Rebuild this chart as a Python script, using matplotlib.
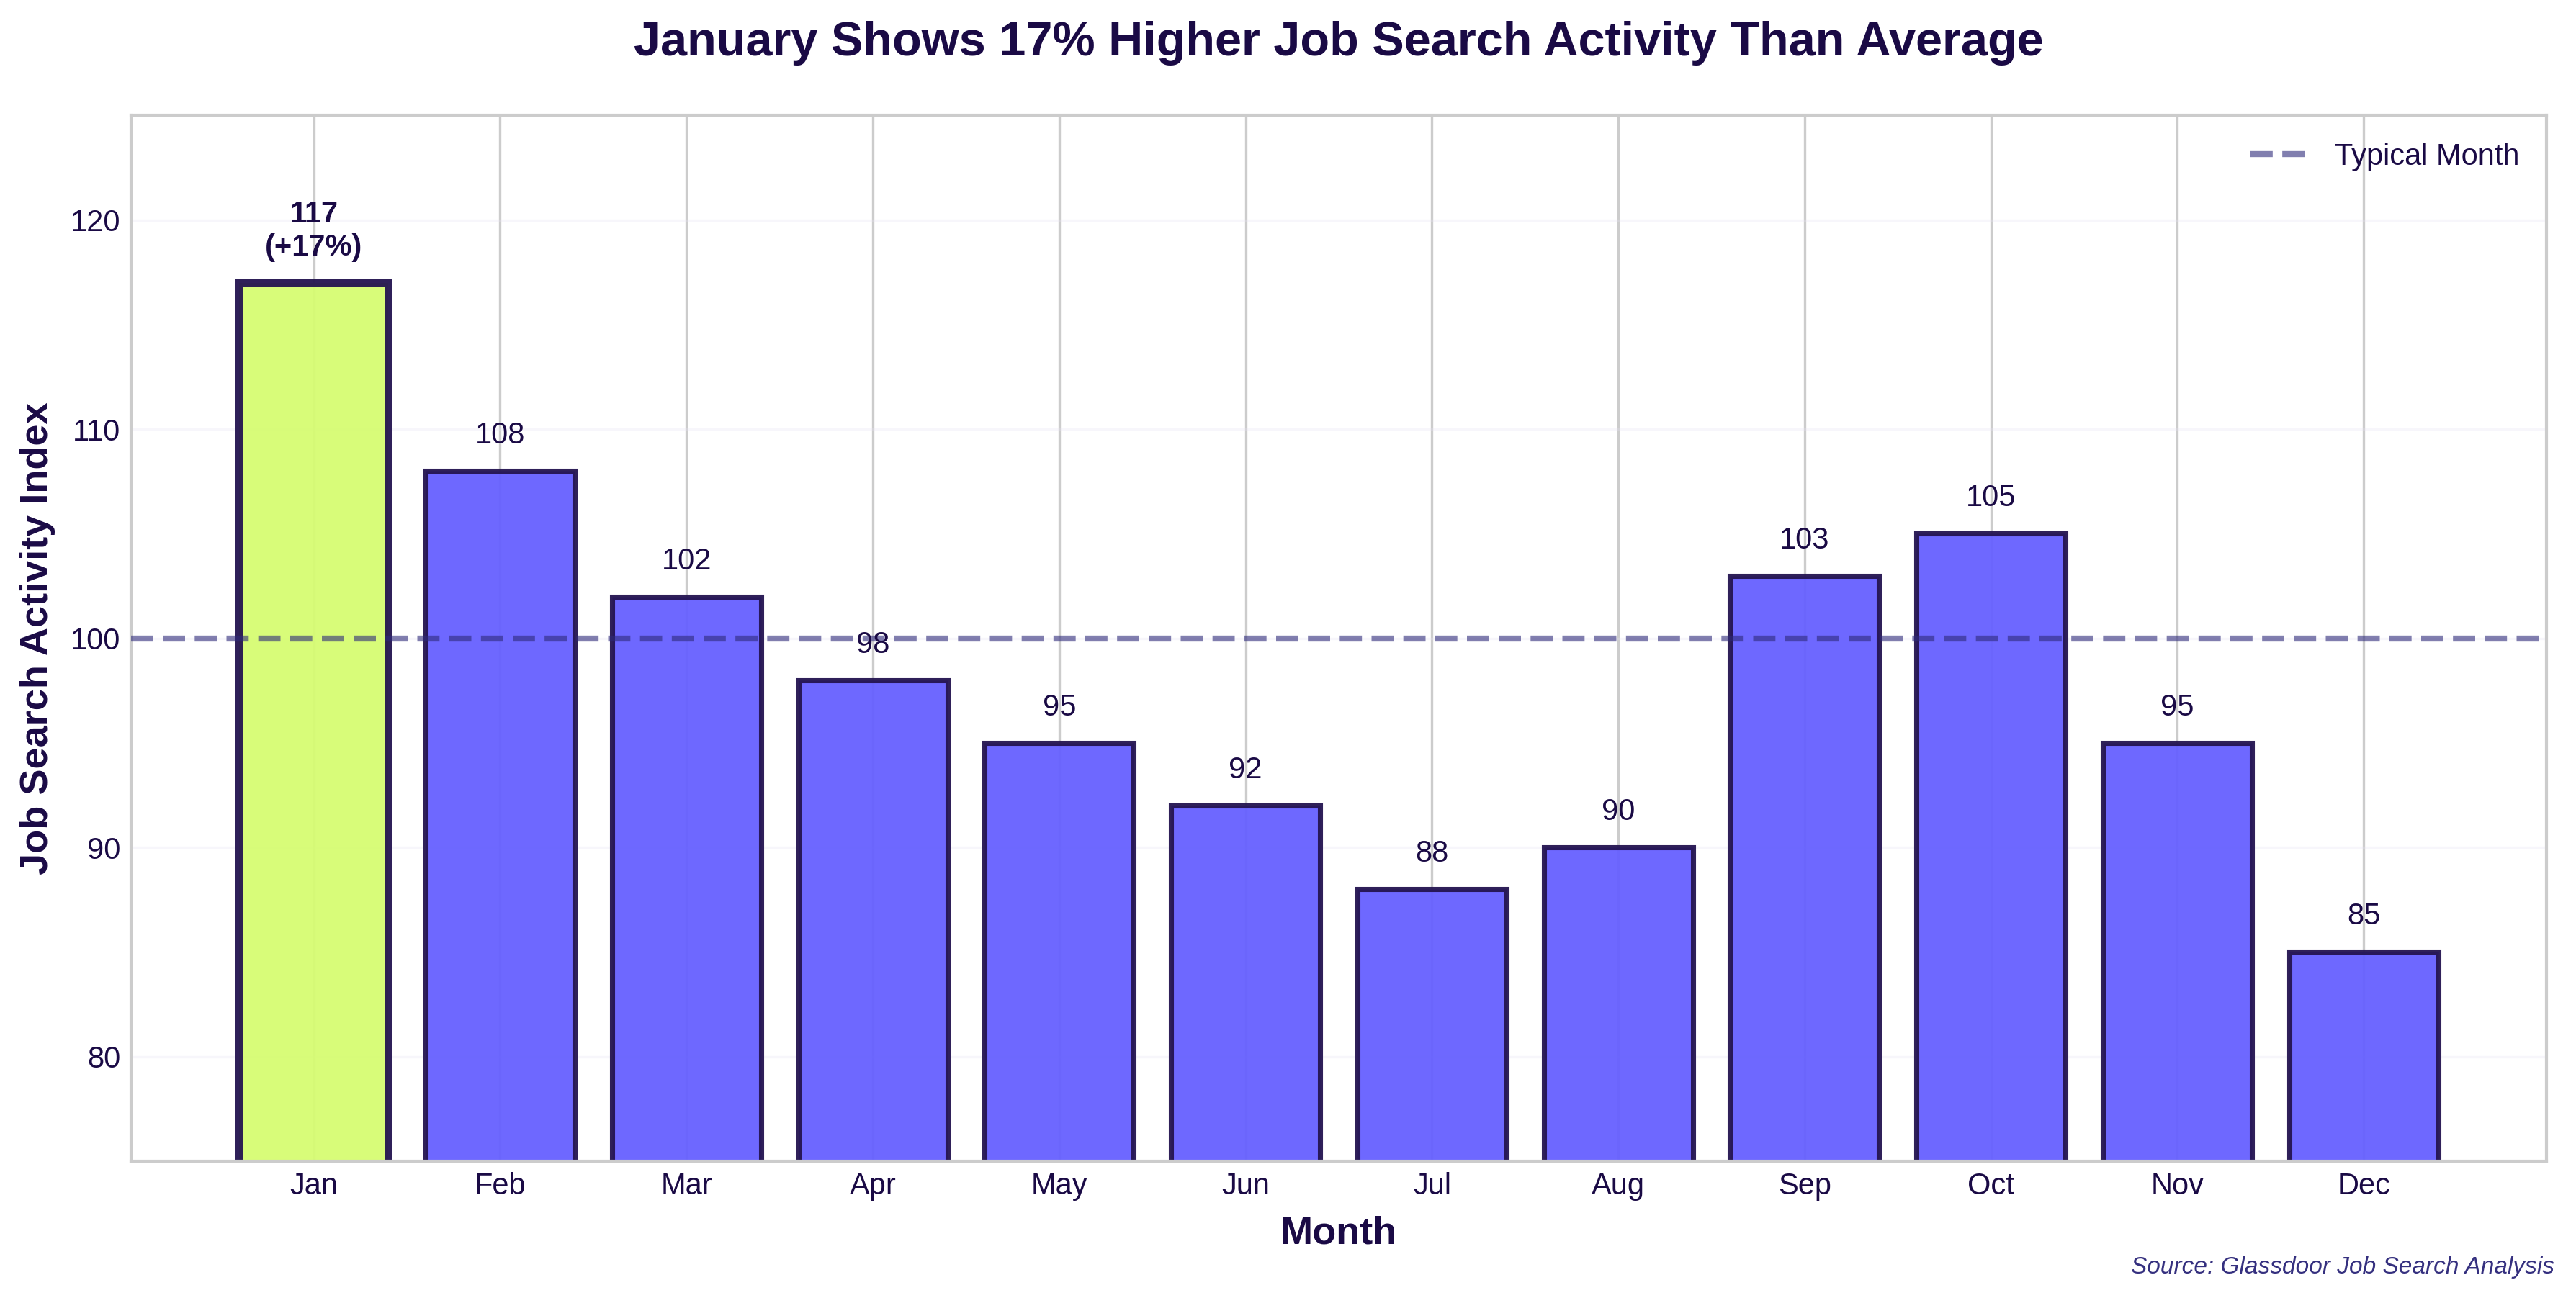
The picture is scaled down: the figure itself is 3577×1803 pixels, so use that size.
import matplotlib
matplotlib.use("Agg")
import matplotlib.pyplot as plt
import numpy as np

months = ["Jan", "Feb", "Mar", "Apr", "May", "Jun", "Jul", "Aug", "Sep", "Oct", "Nov", "Dec"]
activity = [117, 108, 102, 98, 95, 92, 88, 90, 103, 105, 95, 85]
baseline = 100
yticks = [80, 90, 100, 110, 120]

TEXT = "#1a0a45"
EDGE = "#241450"
BAR = "#6660ff"
HIGHLIGHT = "#d6fc72"

plt.style.use("seaborn-v0_8-whitegrid")
plt.rcParams["font.family"] = ["Liberation Sans", "DejaVu Sans"]

fig = plt.figure(figsize=(3577 / 300, 1803 / 300), dpi=300)
ax = fig.add_axes([0.0509, 0.1054, 0.9376, 0.8056])

x = np.arange(len(months))
colors = [HIGHLIGHT if i == 0 else BAR for i in range(len(months))]
lws = [2.4 if i == 0 else 1.7 for i in range(len(months))]
bars = ax.bar(x, activity, width=0.8, color=colors, edgecolor=EDGE,
              linewidth=lws, alpha=0.95, zorder=2)
for b in bars:
    b.set_edgecolor(EDGE)

ax.axhline(baseline, color="#2e2a7a", alpha=0.6, linestyle="--", linewidth=2,
           label="Typical Month", zorder=3)

for i, v in enumerate(activity):
    if i == 0:
        pct = round((v - baseline) / baseline * 100)
        ax.text(i, v + 1, f"{v}\n(+{pct}%)", ha="center", va="bottom",
                fontsize=10, fontweight="bold", color=TEXT, zorder=4)
    else:
        ax.text(i, v + 1, f"{v}", ha="center", va="bottom",
                fontsize=10, color=TEXT, zorder=4)

ax.set_xlim(-0.98, 11.98)
ax.set_ylim(75, 125)
ax.set_xticks(x)
ax.set_xticklabels(months)
ax.set_yticks(yticks)
ax.tick_params(axis="both", labelsize=10, colors=TEXT)

ax.grid(axis="x", color="#cccccc", linewidth=0.8, zorder=0)
ax.grid(axis="y", color="#e6e2f2", linewidth=0.8, alpha=0.3, zorder=0)
ax.set_axisbelow(True)
for s in ax.spines.values():
    s.set_visible(True)
    s.set_color("#cccccc")
    s.set_linewidth(1.0)

ax.set_xlabel("Month", fontsize=13, fontweight="bold", color=TEXT, labelpad=5)
ax.set_ylabel("Job Search Activity Index", fontsize=13, fontweight="bold", color=TEXT, labelpad=5)
ax.set_title("January Shows 17% Higher Job Search Activity Than Average",
             fontsize=16, fontweight="bold", color=TEXT, pad=20)

leg = ax.legend(loc="upper right", fontsize=10, frameon=False)
for t in leg.get_texts():
    t.set_color(TEXT)

fig.text(0.9917, 0.015, "Source: Glassdoor Job Search Analysis", ha="right", va="bottom",
         fontsize=8, style="italic", color="#35307f")

fig.savefig("out.png", dpi=300)
